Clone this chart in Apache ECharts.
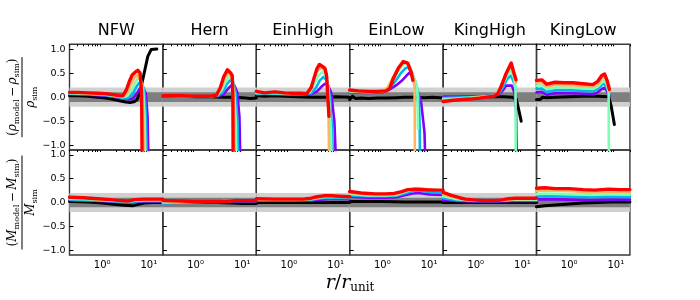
<!DOCTYPE html>
<html><head><meta charset="utf-8">
<script src="https://cdn.jsdelivr.net/npm/echarts@6/dist/echarts.min.js"></script>
<style>html,body{margin:0;padding:0;background:#fff}#c{width:700px;height:300px}</style>
</head><body><div id="c"></div><script>
const panels = ['NFW','Hern','EinHigh','EinLow','KingHigh','KingLow'];
const lineColors = ['#8000ff','#00b5eb','#80ffb4','#ffb462','#ff0000'];
const yTicks = [-1,-0.5,0,0.5,1];
const xMajor = [1,10];
const xMajorLabels = ['10⁰','10¹'];
const xMinor = [0.2,0.3,0.4,0.5,0.6,0.7,0.8,0.9,2,3,4,5,6,7,8,9,20];
const bandOuter = [-0.2,0.2];
const bandInner = [-0.1,0.1];

// density residuals: black, purple, blue, aqua, orange, red
const rhoNFW_k = [[0.2,0.03],[0.3,0.03],[0.5,0.02],[0.8,0.0],[1.2,-0.02],[1.8,-0.05],[2.5,-0.08],[3.2,-0.1],[4,-0.11],[5,-0.09],[5.6,-0.05],[6.3,0.08],[7.2,0.31],[8.1,0.54],[9.5,0.85],[11.2,0.99],[14.8,1.0]];
const rhoNFW_1 = [[0.2,0.06],[0.5,0.05],[1.2,0.03],[2,0.0],[2.8,-0.03],[3.6,-0.05],[4.6,-0.03],[5.6,0.08],[6.4,0.18],[7.4,0.22],[8.6,0.08],[9.4,-0.4],[9.9,-1.5]];
const rhoNFW_2 = [[0.2,0.07],[0.5,0.06],[1.2,0.04],[2,0.01],[2.8,-0.02],[3.6,-0.02],[4.5,0.06],[5.3,0.2],[6.2,0.3],[7.0,0.3],[8.0,0.14],[8.7,-0.4],[9.1,-1.5]];
const rhoNFW_3 = [[0.2,0.08],[0.5,0.07],[1.2,0.05],[2,0.02],[2.8,0.0],[3.5,0.03],[4.3,0.15],[5.1,0.3],[5.9,0.4],[6.6,0.38],[7.5,0.2],[8.1,-0.4],[8.5,-1.5]];
const rhoNFW_4 = [[0.2,0.09],[0.5,0.08],[1.2,0.06],[2,0.03],[2.8,0.01],[3.4,0.08],[4.1,0.25],[4.9,0.4],[5.8,0.47],[6.4,0.44],[7.1,0.25],[7.6,-0.4],[7.9,-1.5]];
const rhoNFW_5 = [[0.2,0.1],[0.3,0.1],[0.5,0.09],[0.8,0.08],[1.2,0.07],[1.8,0.05],[2.4,0.03],[2.8,0.03],[3.3,0.15],[3.8,0.32],[4.4,0.46],[5.1,0.52],[5.8,0.56],[6.5,0.5],[7.0,0.1],[7.2,-1.5]];

const rhoHern_k = [[0.2,0.02],[0.5,0.02],[1,0.01],[2,0.01],[4,0.0],[7,0.0],[10,-0.01],[15,-0.03],[20,-0.02]];
const rhoHern_1 = [[0.2,0.02],[0.5,0.02],[1,0.01],[2,0.01],[3,0.02],[4,0.06],[5,0.18],[5.9,0.25],[6.8,0.24],[7.8,0.1],[8.7,-0.4],[9.2,-1.5]];
const rhoHern_2 = [[0.2,0.02],[0.5,0.02],[1,0.02],[2,0.02],[3,0.03],[3.8,0.1],[4.6,0.26],[5.5,0.35],[6.3,0.33],[7.2,0.1],[7.9,-0.5],[8.3,-1.5]];
const rhoHern_3 = [[0.2,0.03],[0.5,0.02],[1,0.02],[2,0.02],[2.9,0.04],[3.6,0.14],[4.4,0.32],[5.2,0.43],[5.9,0.4],[6.7,0.1],[7.3,-0.5],[7.6,-1.5]];
const rhoHern_4 = [[0.2,0.03],[0.5,0.03],[1,0.02],[2,0.02],[2.8,0.04],[3.5,0.18],[4.2,0.38],[5.0,0.5],[5.7,0.47],[6.3,0.3],[6.8,-0.5],[7.0,-1.5]];
const rhoHern_5 = [[0.2,0.03],[0.5,0.03],[1,0.02],[2,0.02],[2.8,0.04],[3.4,0.2],[4.0,0.42],[4.8,0.57],[5.6,0.51],[6.1,0.45],[6.3,0.0],[6.4,-1.5]];

const rhoEinHigh_k = [[0.2,0.03],[0.3,0.02],[0.5,0.03],[0.8,0.02],[1.5,0.01],[3,0.0],[6,0.0],[10,0.01],[20,0.0]];
const rhoEinHigh_1 = [[0.2,0.06],[0.5,0.06],[1,0.05],[2,0.05],[3,0.06],[4,0.12],[5,0.22],[5.9,0.28],[6.8,0.25],[8,0.1],[9.4,-0.5],[10.3,-1.5]];
const rhoEinHigh_2 = [[0.2,0.07],[0.5,0.07],[1,0.06],[2,0.06],[3,0.08],[3.8,0.2],[4.6,0.35],[5.5,0.42],[6.5,0.35],[7.6,0.0],[8.5,-0.8],[8.9,-1.5]];
const rhoEinHigh_3 = [[0.2,0.09],[0.5,0.08],[1,0.07],[2,0.07],[2.8,0.1],[3.5,0.28],[4.3,0.45],[5.1,0.52],[6.0,0.48],[7.0,0.2],[7.9,-0.7],[8.3,-1.5]];
const rhoEinHigh_4 = [[0.2,0.1],[0.5,0.1],[1,0.08],[2,0.08],[2.6,0.1],[3.2,0.3],[3.9,0.52],[4.7,0.61],[5.5,0.58],[6.3,0.5],[7.0,-0.2],[7.3,-1.5]];
const rhoEinHigh_5 = [[0.2,0.12],[0.3,0.09],[0.5,0.11],[0.8,0.09],[1.2,0.08],[1.8,0.08],[2.4,0.07],[3.0,0.2],[3.4,0.38],[4.0,0.6],[4.5,0.68],[5.2,0.64],[5.9,0.6],[6.4,0.45],[7.2,-0.4]];

const rhoEinLow_k = [[0.2,-0.05],[0.23,0.02],[0.27,-0.03],[0.35,-0.02],[0.5,-0.03],[0.8,-0.02],[1.2,-0.02],[2,-0.01],[3,0.0],[5,0.0],[8,-0.01],[12,0.0],[20,-0.02]];
const rhoEinLow_1 = [[0.2,0.1],[0.5,0.09],[1,0.1],[1.44,0.16],[2,0.25],[2.6,0.34],[3.3,0.45],[3.8,0.51],[4.4,0.43],[5.3,0.22],[6.8,-0.12],[8.0,-0.74],[8.4,-1.5]];
const rhoEinLow_2 = [[0.2,0.11],[0.5,0.1],[1,0.11],[1.4,0.18],[1.9,0.33],[2.5,0.5],[3.1,0.6],[3.6,0.62],[4.3,0.5],[5.2,0.3],[6.0,0.05],[6.3,-0.6],[6.4,-1.5]];
const rhoEinLow_3 = [[0.2,0.12],[0.5,0.11],[1,0.12],[1.35,0.2],[1.8,0.4],[2.4,0.6],[2.9,0.69],[3.4,0.7],[4.2,0.56],[5.0,0.35],[5.6,0.2],[5.8,-0.66]];
const rhoEinLow_4 = [[0.2,0.13],[0.5,0.12],[1,0.12],[1.3,0.2],[1.7,0.42],[2.2,0.62],[2.7,0.72],[3.2,0.73],[3.8,0.62],[4.5,0.45],[4.9,0.2],[5.0,-1.5]];
const rhoEinLow_5 = [[0.2,0.15],[0.3,0.13],[0.5,0.12],[0.8,0.12],[1.2,0.13],[1.45,0.19],[1.7,0.38],[2.2,0.6],[2.8,0.74],[3.0,0.76],[3.5,0.71],[4.2,0.5],[4.5,0.35]];

const rhoKingHigh_k = [[0.2,0.0],[0.5,0.0],[1,0.01],[2,0.01],[4,0.01],[6,0.0],[7.4,-0.04],[8.4,-0.28],[9.4,-0.5]];
const rhoKingHigh_1 = [[0.2,0.0],[0.4,0.0],[0.8,0.01],[1.5,0.02],[2.5,0.03],[3.2,0.06],[3.8,0.14],[4.5,0.24],[5.9,0.24],[6.7,0.1],[7.3,-0.3],[7.6,-1.5]];
const rhoKingHigh_2 = [[0.2,-0.02],[0.4,-0.01],[0.8,0.0],[1.5,0.01],[2.5,0.03],[3.2,0.08],[3.9,0.22],[4.7,0.38],[5.7,0.45],[6.6,0.3],[7.3,0.15]];
const rhoKingHigh_3 = [[0.2,-0.04],[0.4,-0.03],[0.8,-0.01],[1.5,0.01],[2.5,0.03],[3.1,0.1],[3.8,0.27],[4.7,0.45],[5.7,0.55],[6.6,0.4],[7.1,0.2],[7.2,-1.5]];
const rhoKingHigh_4 = [[0.2,-0.07],[0.4,-0.05],[0.8,-0.02],[1.5,0.0],[2.5,0.03],[3.1,0.12],[3.7,0.3],[4.6,0.5],[5.7,0.63],[6.6,0.45],[7.3,0.3]];
const rhoKingHigh_5 = [[0.2,-0.09],[0.3,-0.07],[0.5,-0.05],[0.75,-0.04],[1.2,-0.02],[1.7,0.0],[2.5,0.02],[3.0,0.08],[3.5,0.22],[4.5,0.5],[5.75,0.71],[6.5,0.52],[7.3,0.36]];

const rhoKingLow_k = [[0.2,-0.05],[0.24,-0.05],[0.27,0.0],[0.33,-0.01],[0.5,0.0],[1,0.01],[2,0.02],[4,0.02],[7,0.01],[8,-0.2],[9.3,-0.57]];
const rhoKingLow_1 = [[0.2,0.1],[0.26,0.11],[0.33,0.05],[0.5,0.08],[0.8,0.08],[1.2,0.08],[2,0.07],[3.2,0.06],[4.1,0.1],[5,0.17],[5.75,0.2],[6.5,0.12],[7.3,0.02]];
const rhoKingLow_2 = [[0.2,0.17],[0.26,0.18],[0.33,0.11],[0.5,0.14],[0.8,0.14],[1.2,0.14],[2,0.13],[3.2,0.12],[4.1,0.17],[5,0.25],[5.75,0.28],[6.5,0.18],[7.3,0.06]];
const rhoKingLow_3 = [[0.2,0.24],[0.26,0.25],[0.33,0.17],[0.5,0.2],[0.8,0.2],[1.2,0.2],[2,0.18],[3.2,0.17],[4.1,0.22],[5,0.31],[5.75,0.35],[6.5,0.25],[7.0,0.1],[7.1,-1.5]];
const rhoKingLow_4 = [[0.2,0.3],[0.26,0.31],[0.33,0.22],[0.5,0.26],[0.8,0.25],[1.2,0.25],[2,0.23],[3.2,0.21],[4.1,0.27],[5,0.38],[5.75,0.42],[6.5,0.3],[7.3,0.12]];
const rhoKingLow_5 = [[0.2,0.35],[0.26,0.36],[0.33,0.27],[0.5,0.31],[0.8,0.3],[1.2,0.3],[2,0.28],[3.2,0.26],[4.1,0.33],[5,0.45],[5.75,0.48],[6.5,0.35],[7.3,0.16]];

// mass residuals: black, purple, blue, aqua, orange, red
const mNFW_k = [[0.2,0.02],[0.5,0.01],[1,-0.01],[2,-0.04],[3,-0.06],[4.5,-0.07],[6,-0.04],[8,-0.01],[12,0.0],[20,0.0]];
const mNFW_1 = [[0.2,0.05],[0.5,0.04],[1,0.03],[2,0.01],[3.5,0.0],[5,0.01],[8,0.02],[20,0.02]];
const mNFW_2 = [[0.2,0.06],[0.5,0.05],[1,0.04],[2,0.02],[3.5,0.01],[5,0.02],[8,0.03],[20,0.03]];
const mNFW_3 = [[0.2,0.08],[0.5,0.07],[1,0.05],[2,0.03],[3.5,0.02],[5,0.04],[8,0.05],[20,0.05]];
const mNFW_4 = [[0.2,0.1],[0.5,0.08],[1,0.07],[2,0.05],[3.5,0.03],[5,0.05],[8,0.06],[20,0.06]];
const mNFW_5 = [[0.2,0.11],[0.4,0.1],[0.8,0.08],[1.5,0.06],[2.5,0.04],[3.5,0.03],[5,0.06],[8,0.07],[20,0.07]];

const mHern_k = [[0.2,0.0],[1,0.0],[3,0.0],[6,-0.01],[10,-0.02],[20,-0.02]];
const mHern_1 = [[0.2,-0.01],[1,0.0],[3,0.01],[6,0.02],[20,0.02]];
const mHern_2 = [[0.2,-0.02],[0.5,0.0],[1,0.01],[3,0.01],[6,0.03],[20,0.03]];
const mHern_3 = [[0.2,0.0],[1,0.01],[3,0.02],[6,0.04],[20,0.04]];
const mHern_4 = [[0.2,0.03],[1,0.02],[3,0.02],[6,0.04],[20,0.04]];
const mHern_5 = [[0.2,0.04],[0.5,0.03],[1,0.02],[2,0.02],[4,0.02],[7,0.04],[12,0.04],[20,0.04]];

const mEinHigh_k = [[0.2,0.0],[1,0.0],[3,0.0],[10,0.0],[20,0.0]];
const mEinHigh_1 = [[0.2,0.04],[1,0.04],[3,0.04],[5,0.06],[8,0.08],[20,0.07]];
const mEinHigh_2 = [[0.2,0.05],[1,0.05],[3,0.06],[5,0.09],[8,0.1],[20,0.09]];
const mEinHigh_3 = [[0.2,0.06],[1,0.06],[3,0.07],[5,0.11],[8,0.12],[20,0.11]];
const mEinHigh_4 = [[0.2,0.07],[1,0.06],[3,0.08],[5,0.12],[8,0.13],[20,0.12]];
const mEinHigh_5 = [[0.2,0.08],[0.5,0.07],[1,0.07],[2,0.07],[3,0.09],[4,0.12],[5.5,0.14],[8,0.14],[12,0.13],[20,0.12]];

const mEinLow_k = [[0.2,0.02],[1,0.02],[3,0.01],[10,0.01],[20,0.01]];
const mEinLow_1 = [[0.2,0.12],[0.5,0.1],[1.2,0.1],[2,0.11],[3,0.15],[4.5,0.19],[6,0.2],[10,0.17],[20,0.16]];
const mEinLow_2 = [[0.2,0.15],[0.5,0.13],[1.2,0.13],[2,0.14],[3,0.19],[4.5,0.24],[6,0.25],[10,0.22],[20,0.2]];
const mEinLow_3 = [[0.2,0.18],[0.5,0.15],[1.2,0.15],[2,0.16],[3,0.22],[4.5,0.28],[6,0.3],[10,0.27],[20,0.25]];
const mEinLow_4 = [[0.2,0.2],[0.5,0.17],[1.2,0.16],[2,0.18],[3,0.24],[4.5,0.28],[6,0.29],[10,0.27],[20,0.25]];
const mEinLow_5 = [[0.2,0.23],[0.35,0.2],[0.7,0.18],[1.2,0.18],[1.8,0.19],[2.6,0.23],[3.5,0.27],[5,0.28],[8,0.27],[13,0.26],[20,0.26]];

const mKingHigh_k = [[0.2,0.0],[1,0.0],[3,0.0],[10,0.0],[20,0.0]];
const mKingHigh_1 = [[0.2,0.05],[0.4,0.03],[1,0.02],[3,0.02],[6,0.03],[20,0.03]];
const mKingHigh_2 = [[0.2,0.09],[0.4,0.05],[1,0.03],[3,0.03],[6,0.05],[20,0.05]];
const mKingHigh_3 = [[0.2,0.13],[0.4,0.07],[1,0.04],[3,0.04],[6,0.06],[20,0.06]];
const mKingHigh_4 = [[0.2,0.17],[0.4,0.09],[1,0.05],[3,0.04],[6,0.07],[20,0.08]];
const mKingHigh_5 = [[0.2,0.21],[0.3,0.15],[0.45,0.1],[0.6,0.07],[1,0.05],[1.5,0.04],[2.5,0.04],[3.5,0.05],[5,0.08],[7,0.09],[12,0.09],[20,0.09]];

const mKingLow_k = [[0.2,-0.09],[0.3,-0.07],[0.5,-0.05],[1,-0.03],[2,-0.01],[4,0.0],[8,0.01],[20,0.01]];
const mKingLow_1 = [[0.2,0.06],[0.3,0.07],[1,0.06],[3,0.05],[7,0.06],[20,0.06]];
const mKingLow_2 = [[0.2,0.12],[0.3,0.13],[1,0.12],[3,0.11],[7,0.12],[20,0.11]];
const mKingLow_3 = [[0.2,0.18],[0.3,0.19],[1,0.18],[3,0.16],[7,0.18],[20,0.17]];
const mKingLow_4 = [[0.2,0.24],[0.3,0.25],[1,0.24],[3,0.21],[7,0.23],[20,0.22]];
const mKingLow_5 = [[0.2,0.3],[0.3,0.31],[0.5,0.29],[1,0.29],[2,0.27],[3.5,0.26],[5,0.27],[7,0.28],[12,0.27],[20,0.27]];

const rhoRows = [
  [rhoNFW_k,rhoNFW_1,rhoNFW_2,rhoNFW_3,rhoNFW_4,rhoNFW_5],
  [rhoHern_k,rhoHern_1,rhoHern_2,rhoHern_3,rhoHern_4,rhoHern_5],
  [rhoEinHigh_k,rhoEinHigh_1,rhoEinHigh_2,rhoEinHigh_3,rhoEinHigh_4,rhoEinHigh_5],
  [rhoEinLow_k,rhoEinLow_1,rhoEinLow_2,rhoEinLow_3,rhoEinLow_4,rhoEinLow_5],
  [rhoKingHigh_k,rhoKingHigh_1,rhoKingHigh_2,rhoKingHigh_3,rhoKingHigh_4,rhoKingHigh_5],
  [rhoKingLow_k,rhoKingLow_1,rhoKingLow_2,rhoKingLow_3,rhoKingLow_4,rhoKingLow_5]
];
const mRows = [
  [mNFW_k,mNFW_1,mNFW_2,mNFW_3,mNFW_4,mNFW_5],
  [mHern_k,mHern_1,mHern_2,mHern_3,mHern_4,mHern_5],
  [mEinHigh_k,mEinHigh_1,mEinHigh_2,mEinHigh_3,mEinHigh_4,mEinHigh_5],
  [mEinLow_k,mEinLow_1,mEinLow_2,mEinLow_3,mEinLow_4,mEinLow_5],
  [mKingHigh_k,mKingHigh_1,mKingHigh_2,mKingHigh_3,mKingHigh_4,mKingHigh_5],
  [mKingLow_k,mKingLow_1,mKingLow_2,mKingLow_3,mKingLow_4,mKingLow_5]
];

// layout
const L0 = 69.5, PW = 93.4;
const rowTop = [44.3, 150], rowH = [105.7, 105];
const FONT = 'DejaVu Sans';
const SERIF = 'DejaVu Serif';

const grid = [], xAxis = [], yAxis = [], series = [];
for (let r = 0; r < 2; r++) {
  for (let c = 0; c < 6; c++) {
    const k = r * 6 + c;
    grid.push({left: L0 + PW * c, top: rowTop[r], width: PW, height: rowH[r],
      show: true, borderColor: '#3a3a3a', borderWidth: 1.4, backgroundColor: 'transparent', containLabel: false});
    const xBase = {type: 'log', logBase: 10, min: 0.2, max: 20, gridIndex: k,
      axisLine: {show: false}, splitLine: {show: false}, minorTick: {show: false}};
    xAxis.push(Object.assign({}, xBase, {
      axisTick: {show: true, inside: true, length: 4, customValues: xMajor, lineStyle: {color: '#000', width: 1}},
      axisLabel: {show: r === 1, customValues: xMajor, margin: 5, fontFamily: FONT, fontSize: 10, color: '#000',
        formatter: v => xMajorLabels[xMajor.indexOf(Math.round(v))]}
    }));
    xAxis.push(Object.assign({}, xBase, {
      axisTick: {show: true, inside: true, length: 2, customValues: xMinor, lineStyle: {color: '#000', width: 1}},
      axisLabel: {show: false}
    }));
    yAxis.push({type: 'value', min: -1.1, max: 1.1, gridIndex: k,
      axisLine: {show: false}, splitLine: {show: false},
      axisTick: {show: true, inside: true, length: 4, customValues: yTicks, lineStyle: {color: '#000', width: 1}},
      axisLabel: {show: c === 0, customValues: yTicks, margin: 4, fontFamily: FONT, fontSize: 9.5, color: '#000',
        formatter: v => v.toFixed(1).replace('-', '\u2212')}
    });
    // bands
    series.push({type: 'line', xAxisIndex: 2 * k, yAxisIndex: k, data: [], silent: true,
      markArea: {silent: true, data: [
        [{yAxis: bandOuter[0], itemStyle: {color: '#d0d0d0', opacity: 1}}, {yAxis: bandOuter[1]}],
        [{yAxis: bandInner[0], itemStyle: {color: '#7f7f7f', opacity: 1}}, {yAxis: bandInner[1]}]
      ]}});
    const sets = (r === 0 ? rhoRows : mRows)[c];
    sets.forEach((d, j) => {
      const color = j === 0 ? '#000000' : lineColors[j - 1];
      const w = j === 0 ? 3 : (j === 5 ? 3.4 : 2.6);
      series.push({type: 'line', xAxisIndex: 2 * k, yAxisIndex: k, data: d,
        showSymbol: false, symbol: 'none', smooth: false, clip: true,
        lineStyle: {color: color, width: w, join: 'round', cap: 'round'}, z: 3 + j});
    });
  }
}

const graphic = [];
panels.forEach((p, c) => {
  graphic.push({type: 'text', x: L0 + PW * c + PW / 2, y: 31,
    style: {text: p, fontFamily: FONT, fontSize: 16, fill: '#000', align: 'center', verticalAlign: 'middle'}});
});
const richY = {
  o: {fontFamily: SERIF, fontSize: 12, lineHeight: 15, fill: '#000'},
  i: {fontFamily: SERIF, fontSize: 12, fontStyle: 'italic', lineHeight: 15, fill: '#000'},
  s: {fontFamily: SERIF, fontSize: 8, lineHeight: 9.5, verticalAlign: 'bottom', fill: '#000'}
};
function frac(cy, num, den, len) {
  return {type: 'group', x: 22, y: cy, rotation: Math.PI / 2, children: [
    {type: 'text', x: 0, y: -9, style: {text: num, rich: richY, align: 'center', verticalAlign: 'middle'}},
    {type: 'line', shape: {x1: -len / 2, y1: 0, x2: len / 2, y2: 0}, style: {stroke: '#000', lineWidth: 1}},
    {type: 'text', x: 0, y: 9, style: {text: den, rich: richY, align: 'center', verticalAlign: 'middle'}}
  ]};
}
graphic.push(frac(97.2, '{o|(}{i|ρ}{s|model}{o|\u2009−\u2009}{i|ρ}{s|sim}{o|)}', '{i|ρ}{s|sim}', 80));
graphic.push(frac(202.5, '{o|(}{i|M}{s|model}{o|\u2009−\u2009}{i|M}{s|sim}{o|)}', '{i|M}{s|sim}', 94));
graphic.push({type: 'text', x: 350, y: 283, style: {
  text: '{i|r}{o|/}{i|r}{s|unit}', align: 'center', verticalAlign: 'middle',
  rich: {
    i: {fontFamily: SERIF, fontSize: 19, fontStyle: 'italic', lineHeight: 22, fill: '#000'},
    o: {fontFamily: SERIF, fontSize: 19, lineHeight: 22, fill: '#000'},
    s: {fontFamily: SERIF, fontSize: 12, lineHeight: 14, verticalAlign: 'bottom', fill: '#000'}
  }}});

const chart = echarts.init(document.getElementById('c'), null, {renderer: 'canvas'});
chart.setOption({animation: false, backgroundColor: '#fff', grid, xAxis, yAxis, series, graphic});
</script></body></html>
